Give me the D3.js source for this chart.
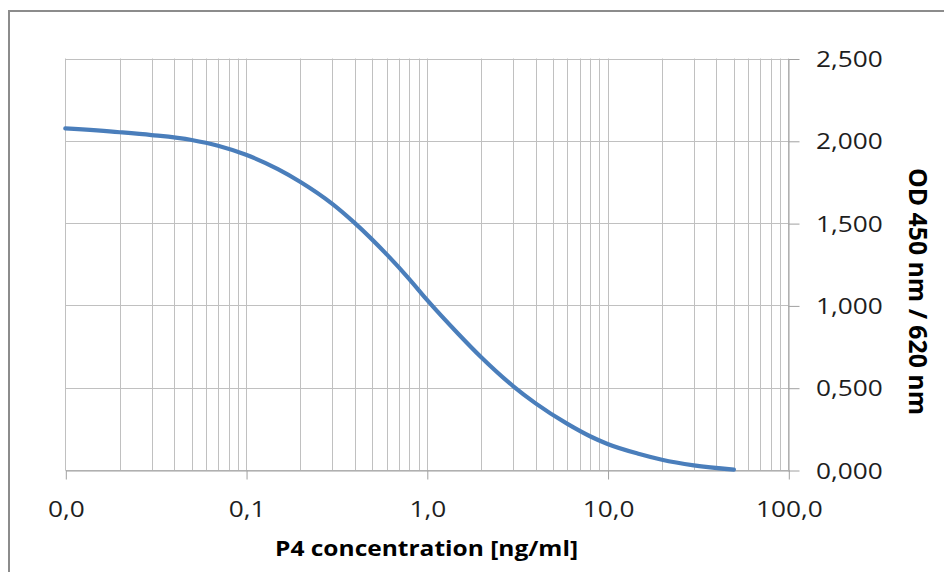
<!DOCTYPE html>
<html>
<head>
<meta charset="utf-8">
<script src="https://cdn.jsdelivr.net/npm/d3@7"></script>
<style>
  html, body { margin: 0; padding: 0; background: #ffffff; }
  svg { display: block; }
</style>
</head>
<body>
<svg id="chart" width="944" height="572"></svg>
<script>
// ---- data ----
const concentration = [0.01, 0.02, 0.03, 0.05, 0.07, 0.1, 0.15, 0.2, 0.3, 0.4, 0.6, 0.8, 1, 1.5, 2, 3, 4, 6, 8, 10, 15, 20, 30, 50];
const odValues      = [2.075, 2.052, 2.035, 2.005, 1.97, 1.915, 1.828, 1.75, 1.617, 1.5, 1.31, 1.16, 1.035, 0.825, 0.685, 0.51, 0.405, 0.28, 0.205, 0.158, 0.097, 0.062, 0.028, 0.002];
const xTickValues   = [0.01, 0.1, 1, 10, 100];
const yTickValues   = [0, 0.5, 1, 1.5, 2, 2.5];
const xTitle = "P4 concentration [ng/ml]";
const yTitle = "OD 450 nm / 620 nm";

// ---- layout ----
const plotLeft = 65.3, plotRight = 788.3, plotTop = 58.5, plotBottom = 470;
const stretch = 1.25;           // horizontal stretch of the tick label glyphs
const labelFont = "'Open Sans', 'DejaVu Sans', sans-serif";

const svg = d3.select("#chart");

const x = d3.scaleLog().domain([0.01, 100]).range([plotLeft, plotRight]);
const y = d3.scaleLinear().domain([0, 2.5]).range([plotBottom, plotTop]);

const commaFmt = (f) => (v) => d3.format(f)(v).replace(".", ",");

// outer frame
svg.append("rect")
  .attr("x", 9).attr("y", 11)
  .attr("width", 960).attr("height", 600)
  .attr("fill", "none")
  .attr("stroke", "#8c8c8c")
  .attr("stroke-width", 2);

// vertical grid lines (log minor ticks)
svg.append("g").selectAll("line")
  .data(x.ticks())
  .join("line")
  .attr("x1", d => Math.round(x(d)) + 0.5)
  .attr("x2", d => Math.round(x(d)) + 0.5)
  .attr("y1", plotTop).attr("y2", plotBottom)
  .attr("stroke", "#c0c0c0")
  .attr("stroke-width", 1);

// horizontal grid lines
svg.append("g").selectAll("line")
  .data(yTickValues)
  .join("line")
  .attr("x1", plotLeft).attr("x2", plotRight)
  .attr("y1", d => Math.round(y(d)) + 0.5)
  .attr("y2", d => Math.round(y(d)) + 0.5)
  .attr("stroke", "#c0c0c0")
  .attr("stroke-width", 1);

// x axis
const gx = svg.append("g")
  .attr("transform", `translate(0.5,${Math.round(plotBottom) + 0.5})`)
  .call(d3.axisBottom(x).tickValues(xTickValues).tickFormat(commaFmt(".1f")).tickSize(9).tickSizeOuter(0));
gx.select(".domain").attr("stroke", "#a0a0a0");
gx.selectAll(".tick line").attr("stroke", "#a0a0a0");
gx.selectAll(".tick text")
  .attr("y", 47).attr("dy", 0)
  .attr("transform", `scale(${stretch},1)`)
  .attr("fill", "#1e1e1e")
  .style("font-family", labelFont)
  .style("font-size", "21px");

// y axis (right side)
const gy = svg.append("g")
  .attr("transform", `translate(${Math.round(plotRight) + 0.5},0.5)`)
  .call(d3.axisRight(y).tickValues(yTickValues).tickFormat(commaFmt(".3f")).tickSize(11).tickSizeOuter(0));
gy.select(".domain").attr("stroke", "#a0a0a0");
gy.selectAll(".tick line").attr("stroke", "#a0a0a0");
gy.selectAll(".tick text")
  .attr("x", 27.4 / stretch).attr("dy", "0.36em")
  .attr("text-anchor", "start")
  .attr("transform", `scale(${stretch},1)`)
  .attr("fill", "#1e1e1e")
  .style("font-family", labelFont)
  .style("font-size", "21px");

// curve
const line = d3.line()
  .x((d, i) => x(concentration[i]))
  .y(d => y(d))
  .curve(d3.curveMonotoneX);

svg.append("path")
  .datum(odValues)
  .attr("d", line)
  .attr("fill", "none")
  .attr("stroke", "#4a7ebb")
  .attr("stroke-width", 4.2)
  .attr("stroke-linecap", "round")
  .attr("stroke-linejoin", "round");

// axis titles
svg.append("text")
  .attr("x", 426.5).attr("y", 555.5)
  .attr("text-anchor", "middle")
  .attr("textLength", 303)
  .attr("lengthAdjust", "spacingAndGlyphs")
  .attr("fill", "#000")
  .style("font-family", labelFont)
  .style("font-weight", "bold")
  .style("font-size", "20.5px")
  .text(xTitle);

svg.append("text")
  .attr("transform", "translate(909,291.5) rotate(90)")
  .attr("text-anchor", "middle")
  .attr("textLength", 247)
  .attr("lengthAdjust", "spacingAndGlyphs")
  .attr("fill", "#000")
  .style("font-family", labelFont)
  .style("font-weight", "bold")
  .style("font-size", "24.5px")
  .text(yTitle);
</script>
</body>
</html>
